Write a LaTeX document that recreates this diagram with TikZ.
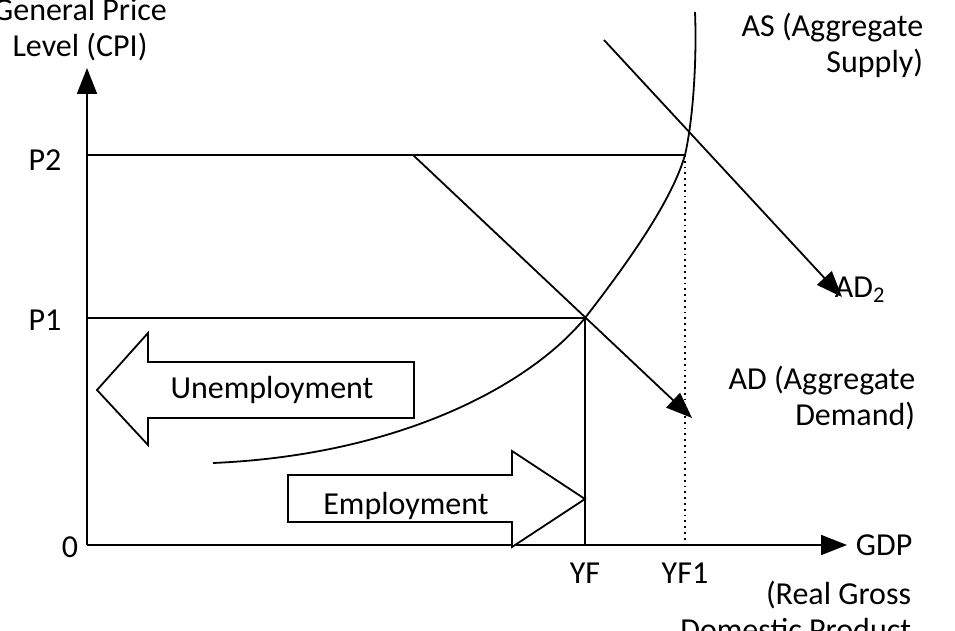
\documentclass[tikz,border=0pt]{standalone}
\usepackage{fontspec}
\setmainfont{Carlito}
\usetikzlibrary{arrows.meta}
\begin{document}
\begin{tikzpicture}[x=0.5pt,y=-0.5pt,line width=0.9pt,
  lbl/.style={font=\fontsize{16}{18}\selectfont,inner sep=0pt},
  tip/.style={-{Triangle[length=13pt,width=10pt]}}]
\useasboundingbox (0,0) rectangle (955,631);
\clip (0,0) rectangle (955,631);
\coordinate (O) at (87,545);
\coordinate (Ytop) at (87,68);
\coordinate (Xend) at (847,545);
\draw[tip] (O) -- (Ytop);
\draw[tip] (O) -- (Xend);
\coordinate (p2) at (87,155); \coordinate (e2) at (685,155);
\coordinate (p1) at (87,318); \coordinate (e1) at (585,318);
\draw (p2) -- (e2);
\draw (p1) -- (e1);
\coordinate (yf) at (585,545); \coordinate (yf1) at (685,545);
\draw (e1) -- (yf);
\draw[dotted] (e2) -- (yf1);
% AS
\draw (213,463) .. controls (400,455) and (530,385) .. (e1) .. controls (630,260) and (672,200) .. (e2) .. controls (693,120) and (697,60) .. (695,12);
% AD
\coordinate (ads) at (413,155); \coordinate (ade) at (692,418);
\draw[tip] (ads) -- (ade);
\coordinate (ad2s) at (604,40); \coordinate (ad2e) at (842,297);
\draw[tip] (ad2s) -- (ad2e);
% block arrows
\draw[fill=white] (97,390) -- (148,333) -- (148,362) -- (414,362) -- (414,418) -- (148,418) -- (148,445) -- cycle;
\node[lbl] (un) at (272,390) {Unemployment};
\draw[fill=white] (585,499) -- (512,451) -- (512,475) -- (288,475) -- (288,522) -- (512,522) -- (512,547) -- cycle;
\begin{scope}
\clip (290,477) rectangle (510,520);
\node[lbl] (em) at (406,506) {Employment};
\end{scope}
% labels
\node[lbl,align=center] (gpl) at (80,30) {General Price\\Level (CPI)};
\node[lbl,align=right,anchor=north east] (as) at (924,12) {AS (Aggregate\\Supply)};
\node[lbl,align=right,anchor=north east] (adl) at (916,365) {AD (Aggregate\\Demand)};
\node[lbl,anchor=west] (ad2) at (834,290) {AD\textsubscript{2}};
\node[lbl,anchor=west] (gdp) at (855,545) {GDP};
\node[lbl,align=right,anchor=north east] (rgdp) at (912,580) {(Real Gross\\Domestic Product};
\node[lbl] (zero) at (70,547) {0};
\node[lbl] (yfl) at (585,573) {YF};
\node[lbl] (yf1l) at (685,573) {YF1};
\node[lbl] (p2l) at (45,160) {P2};
\node[lbl] (p1l) at (45,320) {P1};
\end{tikzpicture}
\end{document}
